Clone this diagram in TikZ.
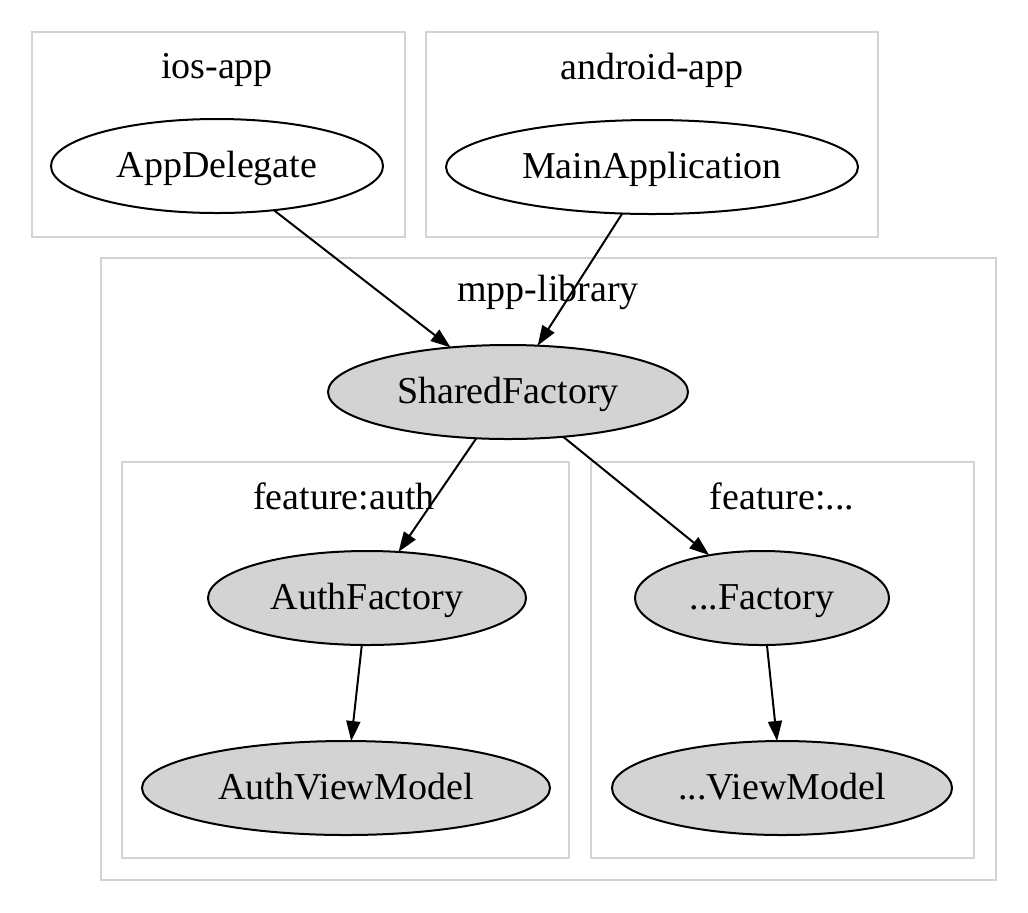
\documentclass[tikz,border=0pt]{standalone}
\usepackage{fontspec}
\setmainfont{Liberation Serif}
\usetikzlibrary{arrows.meta, shapes.geometric}
\definecolor{clustergray}{HTML}{D3D3D3}
\definecolor{nodegray}{HTML}{D3D3D3}

\begin{document}
\begin{tikzpicture}[x=0.5pt, y=-0.5pt,
    line width=1pt,
    >={Triangle[length=10pt,width=7pt]},
    every node/.style={font=\fontsize{19}{23}\selectfont},
    module/.style={ellipse,draw,inner sep=0pt,outer sep=0pt,minimum height=47pt,
        text height=13pt,text depth=2pt},
    shared/.style={module,fill=nodegray},
    cluster/.style={draw=clustergray}]

    \useasboundingbox (0,0) rectangle (1028,912);

    % clusters
    \draw[cluster] (32,32)   rectangle (405,237);
    \draw[cluster] (426,32)  rectangle (878,237);
    \draw[cluster] (101,258) rectangle (996,880);
    \draw[cluster] (122,462) rectangle (569,858);
    \draw[cluster] (591,462) rectangle (974,858);

    \node (ios_label)     at (217,70)  {ios-app};
    \node (android_label) at (652,70)  {android-app};
    \node (mpp_label)     at (548,292) {mpp-library};
    \node (auth_label)    at (344,496) {feature:auth};
    \node (other_label)   at (782,496) {feature:...};

    % nodes
    \node[module,minimum width=166pt] (app_delegate) at (217,166) {AppDelegate};
    \node[module,minimum width=206pt] (main_app)     at (652,167) {MainApplication};
    \node[shared,minimum width=180pt] (shared_f)     at (508,392) {SharedFactory};
    \node[shared,minimum width=159pt] (auth_f)       at (367,598) {AuthFactory};
    \node[shared,minimum width=204pt] (auth_vm)      at (346,788) {AuthViewModel};
    \node[shared,minimum width=127pt] (other_f)      at (762,598) {...Factory};
    \node[shared,minimum width=170pt] (other_vm)     at (782,788) {...ViewModel};

    \path[->]
    (app_delegate) edge (shared_f)
    (main_app)     edge (shared_f)
    (shared_f)     edge (auth_f)
    (shared_f)     edge (other_f)
    (auth_f)       edge (auth_vm)
    (other_f)      edge (other_vm)
    ;
\end{tikzpicture}
\end{document}
